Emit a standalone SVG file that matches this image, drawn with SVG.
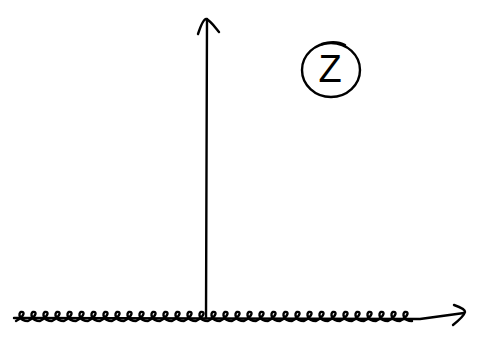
<svg xmlns="http://www.w3.org/2000/svg" width="477" height="349" viewBox="0 0 477 349">
<style>
.ink{fill:none;stroke:#000;stroke-width:2.4;stroke-linecap:round;stroke-linejoin:round}
.lbl{font-family:"Liberation Sans",Arial,sans-serif;font-size:38px;fill:#000}
</style>
<rect width="477" height="349" fill="#fff"/>
<g id="connectors">
<g id="y-axis">
<path class="ink" d="M207,19 L206,318"/>
<path class="ink" d="M198,34 C201,25 204,19 206,19 C210,20 215,27 219,32"/>
</g>
<g id="x-axis">
<path class="ink" d="M14,318 L420,319 L464,313"/>
<path class="ink" d="M16,321 c 9,-5 9,-10 5,-9 c -3,1 -2,9 7,9 c 9,-5 9,-10 5,-9 c -3,1 -2,9 7,9 c 9,-5 9,-10 5,-9 c -3,1 -2,9 7,9 c 9,-5 9,-10 5,-9 c -3,1 -2,9 7,9 c 9,-5 9,-10 5,-9 c -3,1 -2,9 7,9 c 9,-5 9,-10 5,-9 c -3,1 -2,9 7,9 c 9,-5 9,-10 5,-9 c -3,1 -2,9 7,9 c 9,-5 9,-10 5,-9 c -3,1 -2,9 7,9 c 9,-5 9,-10 5,-9 c -3,1 -2,9 7,9 c 9,-5 9,-10 5,-9 c -3,1 -2,9 7,9 c 9,-5 9,-10 5,-9 c -3,1 -2,9 7,9 c 9,-5 9,-10 5,-9 c -3,1 -2,9 7,9 c 9,-5 9,-10 5,-9 c -3,1 -2,9 7,9 c 9,-5 9,-10 5,-9 c -3,1 -2,9 7,9 c 9,-5 9,-10 5,-9 c -3,1 -2,9 7,9 c 9,-5 9,-10 5,-9 c -3,1 -2,9 7,9 c 9,-5 9,-10 5,-9 c -3,1 -2,9 7,9 c 9,-5 9,-10 5,-9 c -3,1 -2,9 7,9 c 9,-5 9,-10 5,-9 c -3,1 -2,9 7,9 c 9,-5 9,-10 5,-9 c -3,1 -2,9 7,9 c 9,-5 9,-10 5,-9 c -3,1 -2,9 7,9 c 9,-5 9,-10 5,-9 c -3,1 -2,9 7,9 c 9,-5 9,-10 5,-9 c -3,1 -2,9 7,9 c 9,-5 9,-10 5,-9 c -3,1 -2,9 7,9 c 9,-5 9,-10 5,-9 c -3,1 -2,9 7,9 c 9,-5 9,-10 5,-9 c -3,1 -2,9 7,9 c 9,-5 9,-10 5,-9 c -3,1 -2,9 7,9 c 9,-5 9,-10 5,-9 c -3,1 -2,9 7,9 c 9,-5 9,-10 5,-9 c -3,1 -2,9 7,9 c 9,-5 9,-10 5,-9 c -3,1 -2,9 7,9 c 9,-5 9,-10 5,-9 c -3,1 -2,9 7,9 c 9,-5 9,-10 5,-9 c -3,1 -2,9 7,9 c 9,-5 9,-10 5,-9 c -3,1 -2,9 7,9"/>
<path class="ink" d="M454,305 C460,307 465,309 465,312 C464,316 458,321 453,325"/>
</g>
</g>
<g id="node-z">
<ellipse class="ink" cx="331" cy="70" rx="29" ry="27"/>
<path class="ink" d="M322,44 C328,42 338,41 345,45"/>
<text class="lbl" x="330" y="82" text-anchor="middle">Z</text>
</g>
</svg>
